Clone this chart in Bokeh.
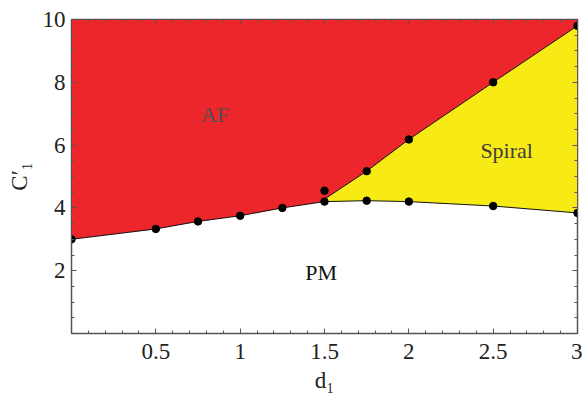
from bokeh.plotting import figure
from bokeh.models import Range1d, FixedTicker, LinearAxis
from bokeh.embed import file_html
from bokeh.resources import INLINE
from bokeh.core.properties import value

# Lower boundary (AF/PM for d<=1.5, Spiral/PM for d>=1.5)
lower_d = [0.0, 0.5, 0.75, 1.0, 1.25, 1.5, 1.75, 2.0, 2.5, 3.0]
lower_c = [3.0, 3.33, 3.57, 3.75, 4.0, 4.2, 4.23, 4.2, 4.06, 3.84]
# Upper boundary (AF/Spiral), starting from the triple point on the lower boundary
upper_d = [1.5, 1.75, 2.0, 2.5, 3.0]
upper_c = [4.28, 5.17, 6.18, 8.0, 9.8]
# Extra computed points above the triple point
extra_d = [1.5]
extra_c = [4.55]
# Points of the upper boundary that carry a marker
upper_pts_d = [1.75, 2.0, 2.5, 3.0]
upper_pts_c = [5.17, 6.18, 8.0, 9.8]

x_ticks = [0.5, 1, 1.5, 2, 2.5, 3]
y_ticks = [2, 4, 6, 8, 10]
labels = ["AF", "PM", "Spiral"]
label_d = [0.85, 1.48, 2.58]
label_c = [6.96, 1.93, 5.82]

RED = "#EC262B"
YEL = "#F8EA14"
SERIF = "Liberation Serif"

p = figure(width=582, height=398, output_backend="svg", toolbar_location=None,
           x_range=Range1d(0, 3), y_range=Range1d(0, 10),
           min_border_left=71, min_border_right=5, min_border_top=19, min_border_bottom=65)
p.xgrid.visible = False
p.ygrid.visible = False
p.outline_line_color = "#555555"
p.outline_line_width = 1.5
p.background_fill_color = "white"

n15 = lower_d.index(1.5)
red_x = lower_d[:n15 + 1] + upper_d + [3.0, 0.0]
red_y = lower_c[:n15 + 1] + upper_c + [10.0, 10.0]
p.patch(red_x, red_y, fill_color=RED, line_color=None)

low_r_d = lower_d[n15:]
low_r_c = lower_c[n15:]
yel_x = upper_d + low_r_d[::-1]
yel_y = upper_c + low_r_c[::-1]
p.patch(yel_x, yel_y, fill_color=YEL, line_color=None)

p.line(lower_d, lower_c, line_color="#111111", line_width=1)
p.line(upper_d, upper_c, line_color="#111111", line_width=1)
p.scatter(lower_d, lower_c, size=7.5, color="black")
p.scatter(upper_pts_d, upper_pts_c, size=7.5, color="black")
p.scatter(extra_d, extra_c, size=7.5, color="black")

text_colors = ["#505050", "#111111", "#404040"]
p.text(label_d, label_c, text=labels, text_align="center", text_baseline="middle",
       text_font=value(SERIF), text_font_size="22px", text_color=text_colors)

xminor = [round(0.1 * i, 1) for i in range(1, 31)]
yminor = [0.5 * i for i in range(1, 20)]

def style(ax):
    ax.major_tick_in = 5
    ax.major_tick_out = 0
    ax.minor_tick_in = 3
    ax.minor_tick_out = 0
    ax.axis_line_color = "#555555"
    ax.major_tick_line_color = "#555555"
    ax.minor_tick_line_color = "#555555"
    ax.major_label_text_font = SERIF
    ax.major_label_text_font_size = "23px"
    ax.major_label_text_color = "#222222"
    ax.axis_label_text_font = SERIF
    ax.axis_label_text_font_size = "23px"
    ax.axis_label_text_font_style = "normal"
    ax.axis_label_text_color = "#222222"

p.xaxis.ticker = FixedTicker(ticks=x_ticks, minor_ticks=xminor)
p.yaxis.ticker = FixedTicker(ticks=y_ticks, minor_ticks=yminor)
style(p.xaxis[0])
style(p.yaxis[0])
p.xaxis.axis_label = "d₁"
p.yaxis.axis_label = "C′₁"
p.xaxis.major_label_standoff = 10
p.yaxis.major_label_standoff = 6
p.xaxis.axis_label_standoff = 6
p.yaxis.axis_label_standoff = 8

top = LinearAxis(ticker=FixedTicker(ticks=x_ticks, minor_ticks=xminor),
                 major_label_overrides={t: "" for t in x_ticks})
right = LinearAxis(ticker=FixedTicker(ticks=y_ticks, minor_ticks=yminor),
                   major_label_overrides={t: "" for t in y_ticks})
style(top)
style(right)
top.major_label_standoff = 0
right.major_label_standoff = 0
p.add_layout(top, "above")
p.add_layout(right, "right")

open("out.html", "w").write(file_html(p, INLINE))
